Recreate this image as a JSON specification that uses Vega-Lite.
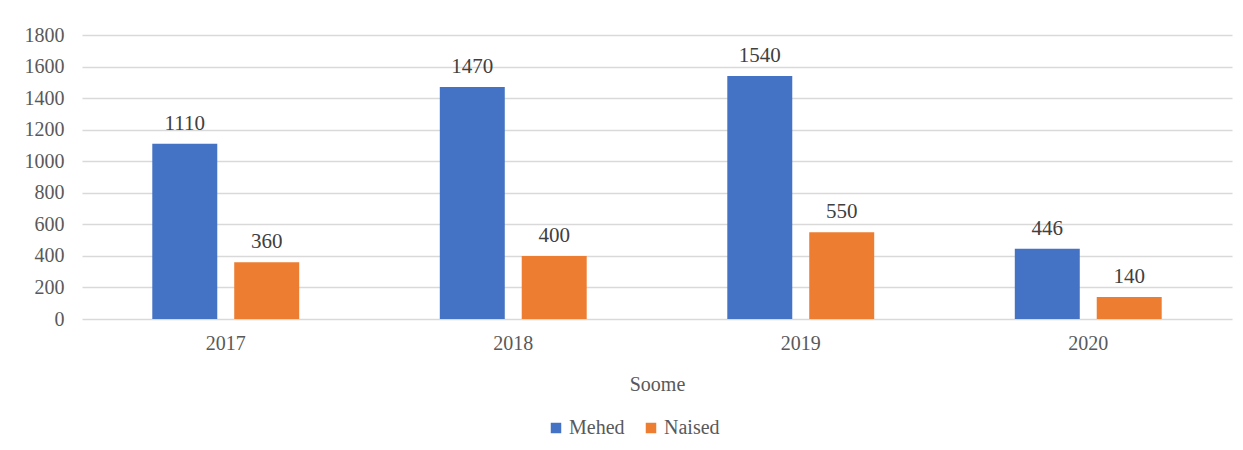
{
  "$schema": "https://vega.github.io/schema/vega-lite/v6.json",
  "width": 1150,
  "height": 284,
  "autosize": {"type": "none"},
  "padding": {"left": 82, "top": 35, "right": 11, "bottom": 131},
  "background": "white",
  "config": {
    "view": {"stroke": null},
    "font": "Liberation Serif, Times New Roman, serif",
    "axis": {"labelFont": "Liberation Serif, Times New Roman, serif", "titleFont": "Liberation Serif, Times New Roman, serif"},
    "legend": {"labelFont": "Liberation Serif, Times New Roman, serif", "titleFont": "Liberation Serif, Times New Roman, serif"},
    "text": {"font": "Liberation Serif, Times New Roman, serif"}
  },
  "data": {
    "values": [
      {"aasta": "2017", "sugu": "Mehed", "arv": 1110},
      {"aasta": "2017", "sugu": "Naised", "arv": 360},
      {"aasta": "2018", "sugu": "Mehed", "arv": 1470},
      {"aasta": "2018", "sugu": "Naised", "arv": 400},
      {"aasta": "2019", "sugu": "Mehed", "arv": 1540},
      {"aasta": "2019", "sugu": "Naised", "arv": 550},
      {"aasta": "2020", "sugu": "Mehed", "arv": 446},
      {"aasta": "2020", "sugu": "Naised", "arv": 140}
    ]
  },
  "encoding": {
    "x": {
      "field": "aasta", "type": "nominal",
      "scale": {"paddingInner": 0.489, "paddingOuter": 0.2445},
      "axis": {
        "title": "Soome", "labelAngle": 0, "labelFontSize": 20, "labelColor": "#595959",
        "labelPadding": 14, "ticks": false, "domain": false,
        "titleFontSize": 20, "titleFontWeight": "normal", "titleColor": "#595959", "titlePadding": 21
      }
    },
    "xOffset": {"field": "sugu", "type": "nominal", "scale": {"paddingInner": 0.207, "paddingOuter": 0}},
    "y": {
      "field": "arv", "type": "quantitative",
      "scale": {"domain": [0, 1800]},
      "axis": {
        "title": null, "values": [0, 200, 400, 600, 800, 1000, 1200, 1400, 1600, 1800], "format": "d",
        "labelFontSize": 20, "labelColor": "#595959", "labelPadding": 18,
        "ticks": false, "domain": false, "gridColor": "#d9d9d9", "gridWidth": 1.5
      }
    }
  },
  "layer": [
    {
      "mark": {"type": "bar"},
      "encoding": {
        "color": {
          "field": "sugu", "type": "nominal",
          "scale": {"domain": ["Mehed", "Naised"], "range": ["#4472C4", "#ED7D31"]},
          "legend": {
            "title": null, "orient": "none", "legendX": 464, "legendY": 383, "direction": "horizontal",
            "symbolType": "square", "symbolSize": 110, "symbolStrokeWidth": 0,
            "labelFontSize": 20, "labelColor": "#595959", "labelOffset": 3,
            "columnPadding": 16, "padding": 0
          }
        }
      }
    },
    {
      "mark": {"type": "text", "baseline": "alphabetic", "dy": -14, "fontSize": 21, "color": "#404040", "font": "Liberation Serif, Times New Roman, serif"},
      "encoding": {
        "text": {"field": "arv", "type": "quantitative"}
      }
    }
  ]
}
